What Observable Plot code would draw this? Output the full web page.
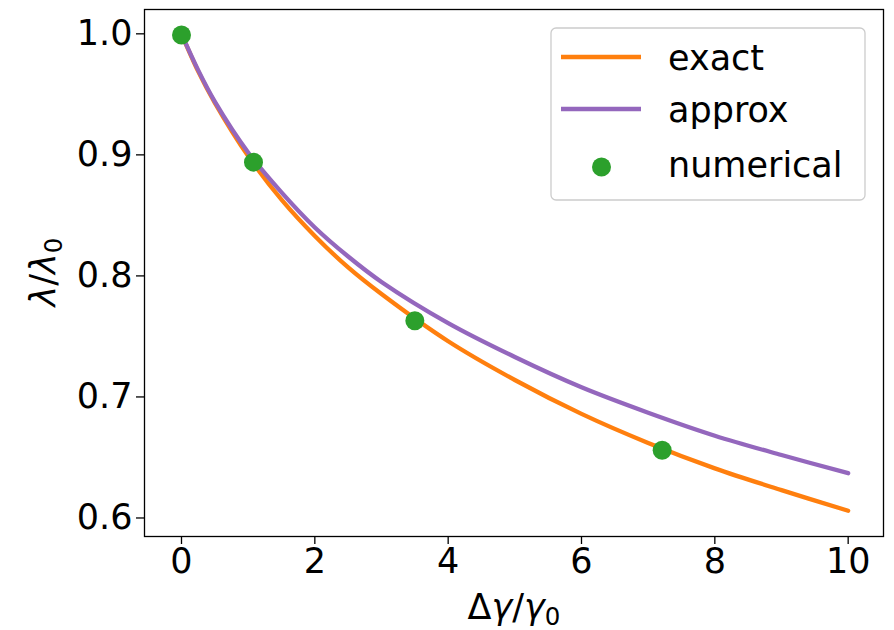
<!DOCTYPE html>
<html>
<head>
<meta charset="utf-8">
<script src="https://cdn.jsdelivr.net/npm/d3@7"></script>
<script src="https://cdn.jsdelivr.net/npm/@observablehq/plot@0.6"></script>
<style>
  html, body { margin: 0; padding: 0; background: #fff; }
  #chart { width: 894px; height: 630px; }
  svg { font-family: "DejaVu Sans", sans-serif; }
</style>
</head>
<body>
<div id="chart"></div>
<script>
// Curve samples (x = Δγ/γ0, y = λ/λ0)
const xs     = [0, 0.25, 0.5, 1, 1.5, 2, 2.5, 3, 4, 5, 6, 7, 8, 9, 10];
const exact  = [1.000, 0.969, 0.943, 0.899, 0.863, 0.833, 0.807, 0.785, 0.746, 0.714, 0.686, 0.662, 0.641, 0.623, 0.606];
const approx = [1.000, 0.970, 0.944, 0.902, 0.869, 0.840, 0.816, 0.795, 0.761, 0.733, 0.708, 0.687, 0.668, 0.652, 0.637];
// Numerical points
const numX = [0, 1.08, 3.5, 7.21];
const numY = [0.999, 0.894, 0.763, 0.656];
// Ticks
const xTicks = [0, 2, 4, 6, 8, 10];
const yTicks = [0.6, 0.7, 0.8, 0.9, 1.0];
const seriesNames = ["exact", "approx", "numerical"];
const colors = ["#ff7f0e", "#9467bd", "#2ca02c"];

const exactData = xs.map((x, i) => ({x, y: exact[i]}));
const approxData = xs.map((x, i) => ({x, y: approx[i]}));
const numData = numX.map((x, i) => ({x, y: numY[i]}));

const FS = 35;
const plot = Plot.plot({
  width: 894,
  height: 630,
  marginLeft: 144,
  marginRight: 11,
  marginTop: 9,
  marginBottom: 94,
  style: {fontFamily: "DejaVu Sans, sans-serif", color: "black", background: "white"},
  x: {domain: [-0.555, 10.53]},
  y: {domain: [0.5847, 1.0201]},
  marks: [
    Plot.axisX({ticks: xTicks, tickSize: 8, tickPadding: 4, fontSize: FS, label: null, strokeWidth: 1.3}),
    Plot.axisY({ticks: yTicks, tickFormat: d3.format(".1f"), tickSize: 8, tickPadding: 4, fontSize: FS, label: null, strokeWidth: 1.3}),
    Plot.line(exactData, {x: "x", y: "y", stroke: colors[0], strokeWidth: 4.3, curve: "catmull-rom"}),
    Plot.line(approxData, {x: "x", y: "y", stroke: colors[1], strokeWidth: 4.3, curve: "catmull-rom"}),
    Plot.dot(numData, {x: "x", y: "y", fill: colors[2], r: 9.5}),
    Plot.frame({stroke: "black", strokeWidth: 1.3})
  ]
});
document.getElementById("chart").appendChild(plot);

const svg = d3.select(plot);
// Axis labels (mathtext style)
const xl = svg.append("text")
  .attr("x", 514).attr("y", 619)
  .attr("text-anchor", "middle")
  .attr("font-size", FS).attr("fill", "black");
xl.append("tspan").text("Δ");
xl.append("tspan").attr("font-style", "italic").text("γ");
xl.append("tspan").text("/");
xl.append("tspan").attr("font-style", "italic").text("γ");
xl.append("tspan").attr("font-size", FS * 0.7).attr("dy", 6).text("0");

const yl = svg.append("text")
  .attr("transform", "translate(55,272) rotate(-90)")
  .attr("text-anchor", "middle")
  .attr("font-size", FS).attr("fill", "black");
yl.append("tspan").attr("font-style", "italic").text("λ");
yl.append("tspan").text("/");
yl.append("tspan").attr("font-style", "italic").text("λ");
yl.append("tspan").attr("font-size", FS * 0.7).attr("dy", 7).text("0");

// Legend
const lg = svg.append("g");
lg.append("rect").attr("x", 551).attr("y", 28).attr("width", 314).attr("height", 172)
  .attr("rx", 5).attr("fill", "white").attr("fill-opacity", 0.8)
  .attr("stroke", "#cccccc").attr("stroke-width", 1.3);
const rows = [57, 109, 167];
const base = [70, 122, 177];
lg.append("line").attr("x1", 561).attr("x2", 641).attr("y1", rows[0]).attr("y2", rows[0])
  .attr("stroke", colors[0]).attr("stroke-width", 4.3);
lg.append("line").attr("x1", 561).attr("x2", 641).attr("y1", rows[1]).attr("y2", rows[1])
  .attr("stroke", colors[1]).attr("stroke-width", 4.3);
lg.append("circle").attr("cx", 601.5).attr("cy", rows[2]).attr("r", 9.5).attr("fill", colors[2]);
seriesNames.forEach((n, i) => {
  lg.append("text").attr("x", 668).attr("y", base[i]).attr("font-size", FS)
    .attr("text-anchor", "start")
    .attr("fill", "black").text(n);
});
</script>
</body>
</html>
